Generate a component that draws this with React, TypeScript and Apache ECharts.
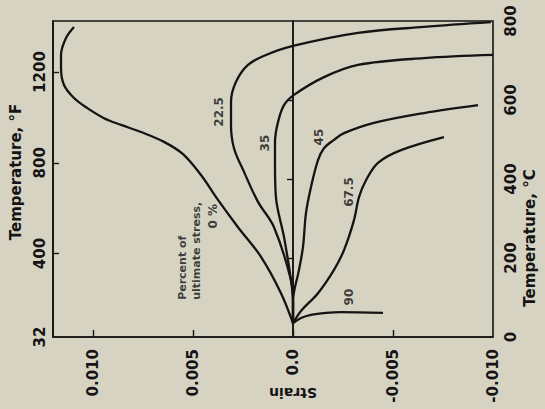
import React, { useEffect, useRef } from "react";
import * as echarts from "echarts";

// Axis ticks
const strainLabelValues = [-0.01, -0.005, 0, 0.005, 0.01];
const strainTickValues = [-0.005, 0, 0.005, 0.01];
const fahrenheitLabelValues = [32, 400, 800, 1200];
const fahrenheitTickValues = [400, 800, 1200];
const celsiusTickValues = [200, 400, 600];

// Curves: temperature (°C) and strain
const temp0 = [35, 111, 203, 278, 347, 410, 463, 494, 519, 537, 554, 580, 605, 638, 681, 714, 757, 785];
const strain0 = [0, 0.0006, 0.0016, 0.00275, 0.00375, 0.0046, 0.0055, 0.00645, 0.0076, 0.0086, 0.00945, 0.0103, 0.01095, 0.01145, 0.0116, 0.0116, 0.01135, 0.01095];

const temp225 = [35, 86, 144, 278, 342, 418, 478, 537, 595, 646, 689, 714, 737, 770, 785, 797];
const strain225 = [0, 0, 0.0001, 0.00095, 0.00175, 0.00245, 0.00295, 0.0031, 0.0031, 0.00285, 0.00225, 0.00135, 0, -0.00325, -0.00655, -0.0099];

const temp35 = [35, 89, 144, 253, 352, 435, 494, 544, 587, 613, 658, 689, 706, 714];
const strain35 = [0, 0, 0.0001, 0.00045, 0.00085, 0.0009, 0.0009, 0.00075, 0.00045, -0.00005, -0.00155, -0.00325, -0.00655, -0.01];

const temp45 = [35, 89, 170, 228, 314, 380, 448, 478, 499, 516, 542, 567, 587];
const strain45 = [0, 0, -0.0003, -0.0005, -0.00065, -0.0009, -0.00125, -0.00155, -0.00205, -0.00255, -0.00405, -0.00655, -0.00925];

const temp675 = [35, 66, 111, 170, 220, 296, 354, 397, 441, 473, 506];
const strain675 = [0, -0.0004, -0.00125, -0.00205, -0.00255, -0.00305, -0.0033, -0.00365, -0.00425, -0.0054, -0.00755];

const temp90 = [35, 48, 56, 61, 63, 61];
const strain90 = [0, -0.0004, -0.0009, -0.00165, -0.0024, -0.0045];

const zeroLineTemp = [0, 800];
const zeroLineStrain = [0, 0];

// Curve labels
const curveLabelTexts = ["22.5", "35", "45", "67.5", "90", "0 %"];
const curveLabelStrain = [0.0037, 0.0014, -0.0013, -0.0028, -0.0028, 0.004];
const curveLabelTemp = [570, 491, 506, 367, 101, 306];

const noteText = "Percent of\nultimate stress,";
const noteStrain = 0.0052;
const noteTemp = 94;

const INK = "#141414";
const FONT = "DejaVu Sans";

const pairs = (xs: number[], ys: number[]) => xs.map((x, i) => [x, ys[i]]);

export default function App() {
  const ref = useRef<HTMLDivElement>(null);
  useEffect(() => {
    if (!ref.current) return;
    const chart = echarts.init(ref.current, undefined, { renderer: "svg" });
    const curve = (name: string, xs: number[], ys: number[], width = 2.3) => ({
      name,
      type: "line",
      xAxisIndex: 0,
      yAxisIndex: 0,
      data: pairs(xs, ys),
      showSymbol: false,
      symbol: "none",
      smooth: 0.35,
      lineStyle: { color: INK, width },
      silent: true,
    });
    const labelBase = {
      show: true,
      position: "inside",
      rotate: 90,
      color: INK,
      textBorderWidth: 0,
      textBorderColor: "transparent",
      fontFamily: FONT,
      fontWeight: "bold",
    };
    const option: any = {
      animation: false,
      backgroundColor: "#d7d3c3",
      grid: {
        left: 53,
        right: 52,
        top: 21,
        bottom: 72,
        show: true,
        borderColor: INK,
        borderWidth: 1.6,
        backgroundColor: "transparent",
        containLabel: false,
        outerBoundsMode: "none",
      },
      xAxis: {
        type: "value",
        inverse: true,
        min: -0.01,
        max: 0.012,
        splitLine: { show: false },
        axisLine: { show: true, lineStyle: { color: INK, width: 1.6 } },
        axisTick: {
          show: true,
          inside: true,
          length: 7,
          customValues: strainTickValues,
          lineStyle: { color: INK, width: 1.4 },
        },
        axisLabel: {
          customValues: strainLabelValues,
          rotate: 90,
          margin: 12,
          color: INK,
          fontFamily: FONT,
          fontWeight: "bold",
          fontSize: 15,
          formatter: (v: number) => (v === 0 ? "0.0" : v.toFixed(3)),
        },
      },
      yAxis: [
        {
          type: "value",
          position: "right",
          min: 0,
          max: 800,
          interval: 200,
          splitLine: { show: false },
          axisLine: { show: true, lineStyle: { color: INK, width: 1.6 } },
          axisTick: {
            show: true,
            inside: true,
            length: 6,
            customValues: celsiusTickValues,
            lineStyle: { color: INK, width: 1.4 },
          },
          axisLabel: {
            rotate: 90,
            margin: 10,
            color: INK,
            fontFamily: FONT,
            fontWeight: "bold",
            fontSize: 15,
            formatter: (v: number) => String(v),
          },
        },
        {
          type: "value",
          position: "left",
          min: 32,
          max: 1425,
          splitLine: { show: false },
          axisLine: { show: true, lineStyle: { color: INK, width: 1.6 } },
          axisTick: {
            show: true,
            inside: true,
            length: 6,
            customValues: fahrenheitTickValues,
            lineStyle: { color: INK, width: 1.4 },
          },
          axisLabel: {
            customValues: fahrenheitLabelValues,
            rotate: 90,
            margin: 6,
            color: INK,
            fontFamily: FONT,
            fontWeight: "bold",
            fontSize: 15,
            formatter: (v: number) => String(v),
          },
        },
      ],
      graphic: [
        {
          type: "text",
          x: 16,
          y: 172,
          rotation: Math.PI / 2,
          style: {
            text: "Temperature, °F",
            fill: INK,
            font: `bold 15px "${FONT}"`,
            align: "center",
            verticalAlign: "middle",
            textAlign: "center",
            textVerticalAlign: "middle",
          },
        },
        {
          type: "text",
          x: 530,
          y: 238,
          rotation: Math.PI / 2,
          style: {
            text: "Temperature, °C",
            fill: INK,
            font: `bold 15px "${FONT}"`,
            align: "center",
            verticalAlign: "middle",
            textAlign: "center",
            textVerticalAlign: "middle",
          },
        },
        {
          type: "text",
          x: 293,
          y: 393,
          rotation: Math.PI,
          style: {
            text: "Strain",
            fill: INK,
            font: `bold 14px "${FONT}"`,
            align: "center",
            verticalAlign: "middle",
            textAlign: "center",
            textVerticalAlign: "middle",
          },
        },
      ],
      series: [
        curve("zero", zeroLineStrain, zeroLineTemp, 1.5),
        curve("0 %", strain0, temp0),
        curve("22.5", strain225, temp225),
        curve("35", strain35, temp35),
        curve("45", strain45, temp45),
        curve("67.5", strain675, temp675),
        curve("90", strain90, temp90),
        {
          name: "labels",
          type: "scatter",
          xAxisIndex: 0,
          yAxisIndex: 0,
          symbolSize: 0,
          silent: true,
          data: curveLabelTexts
            .map((t, i) => ({
              value: [curveLabelStrain[i], curveLabelTemp[i]],
              label: { ...labelBase, formatter: t, fontSize: 12 },
            }))
            .concat([
              {
                value: [noteStrain, noteTemp],
                label: {
                  ...labelBase,
                  formatter: noteText,
                  align: "left",
                  verticalAlign: "middle",
                  lineHeight: 14,
                  fontSize: 11,
                },
              } as any,
            ]),
        },
      ],
    };
    chart.setOption(option);
    return () => chart.dispose();
  }, []);
  return (
    <div
      ref={ref}
      style={{ position: "fixed", left: 0, top: 0, width: 545, height: 409 }}
    />
  );
}
